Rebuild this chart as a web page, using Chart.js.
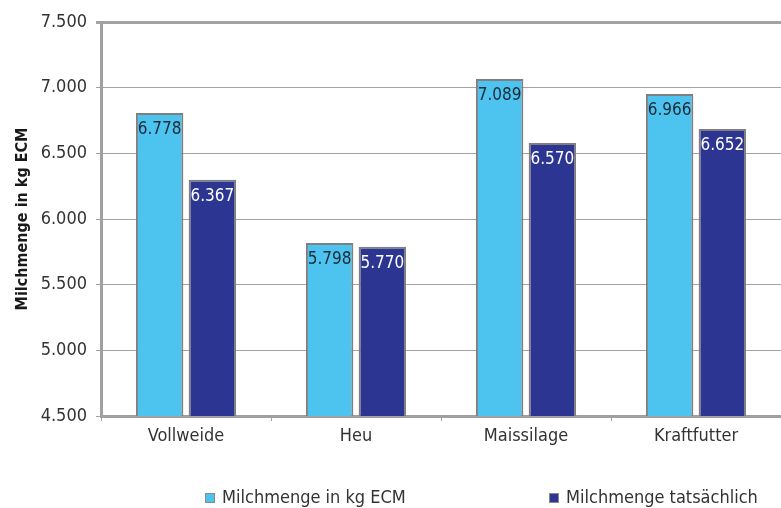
<!DOCTYPE html>
<html>
<head>
<meta charset="utf-8">
<script src="https://cdn.jsdelivr.net/npm/chart.js@4.4.0/dist/chart.umd.min.js"></script>
<style>
  html, body { margin: 0; padding: 0; background: #fff; }
  #wrap { width: 781px; height: 508px; }
</style>
</head>
<body>
<div id="wrap"><canvas id="myChart" width="781" height="508"></canvas></div>
<script>
const categories = ['Vollweide', 'Heu', 'Maissilage', 'Kraftfutter']
const seriesNames = ['Milchmenge in kg ECM', 'Milchmenge tatsächlich']
// bar heights as drawn in the picture
const ecmValues = [6808, 5818, 7066, 6952]
const actualValues = [6298, 5788, 6579, 6686]
// printed labels inside the bars
const ecmLabels = ['6.778', '5.798', '7.089', '6.966']
const actualLabels = ['6.367', '5.770', '6.570', '6.652']
const yTicks = [4500, 5000, 5500, 6000, 6500, 7000, 7500]

const FONT = "'DejaVu Sans Condensed', 'DejaVu Sans', sans-serif"
const LIGHT = '#4cc4ef'
const DARK = '#2d3593'
const AXIS = '#a0a0a3'

// writes the value labels at the top inside each bar
const barLabels = {
  id: 'barLabels',
  afterDatasetsDraw(chart) {
    const ctx = chart.ctx
    ctx.save()
    ctx.font = '17px ' + FONT
    ctx.textAlign = 'center'
    ctx.textBaseline = 'middle'
    chart.data.datasets.forEach((ds, i) => {
      chart.getDatasetMeta(i).data.forEach((bar, j) => {
        ctx.fillStyle = i == 0 ? '#1d2a35' : '#ffffff'
        ctx.fillText(ds.valueLabels[j], bar.x, bar.y + 17)
      })
    })
    ctx.restore()
  }
}

// legend spread out like in the original
const wideLegend = {
  id: 'wideLegend',
  afterDraw(chart) {
    const ctx = chart.ctx
    const spots = [205, 549]
    ctx.save()
    ctx.font = '18px ' + FONT
    ctx.textBaseline = 'middle'
    chart.data.datasets.forEach((ds, i) => {
      const x = spots[i], y = 498
      ctx.fillStyle = ds.backgroundColor
      ctx.fillRect(x, y - 5, 10, 10)
      ctx.strokeStyle = '#8a8a8a'
      ctx.lineWidth = 1
      ctx.strokeRect(x + 0.5, y - 4.5, 9, 9)
      ctx.fillStyle = '#333'
      ctx.fillText(ds.label, x + 17, y)
    })
    ctx.restore()
  }
}

const ctx = document.getElementById('myChart').getContext('2d')
const chart = new Chart(ctx, {
  type: 'bar',
  data: {
    labels: categories,
    datasets: [{
      label: seriesNames[0],
      data: ecmValues,
      valueLabels: ecmLabels,
      backgroundColor: LIGHT,
      borderColor: '#7f7f82',
      borderWidth: 2,
      borderSkipped: 'bottom'
    }, {
      label: seriesNames[1],
      data: actualValues,
      valueLabels: actualLabels,
      backgroundColor: DARK,
      borderColor: '#7f7f82',
      borderWidth: 2,
      borderSkipped: 'bottom'
    }]
  },
  options: {
    responsive: false,
    animation: false,
    devicePixelRatio: 1,
    barPercentage: 0.9,
    categoryPercentage: 0.62,
    layout: { padding: { top: 22, right: 0, left: 0, bottom: 0 } },
    plugins: {
      legend: { display: false },
      tooltip: { enabled: false }
    },
    scales: {
      x: {
        afterFit: s => { s.height = 92 },
        grid: {
          offset: true,
          drawOnChartArea: false,
          tickLength: 5,
          color: AXIS
        },
        border: { color: AXIS, width: 3 },
        ticks: {
          color: '#333',
          font: { family: FONT, size: 18 },
          padding: 5
        }
      },
      y: {
        min: 4500,
        max: 7500,
        afterFit: s => { s.width = 101 },
        afterBuildTicks: s => { s.ticks = yTicks.map(v => ({ value: v })) },
        grid: {
          color: '#a3a3a3',
          lineWidth: c => c.tick && c.tick.value == 7500 ? 3 : 1,
          tickLength: 5
        },
        border: { color: AXIS, width: 3 },
        ticks: {
          color: '#333',
          font: { family: FONT, size: 18 },
          padding: 9,
          callback: v => v.toLocaleString('de-DE', { minimumFractionDigits: 0 }).replace(',', '.')
        },
        title: {
          display: true,
          text: 'Milchmenge in kg ECM',
          color: '#1a1a1a',
          font: { family: FONT, size: 16, weight: 'bold' },
          padding: { top: 13, bottom: 0 }
        }
      }
    }
  },
  plugins: [barLabels, wideLegend]
})
</script>
</body>
</html>
